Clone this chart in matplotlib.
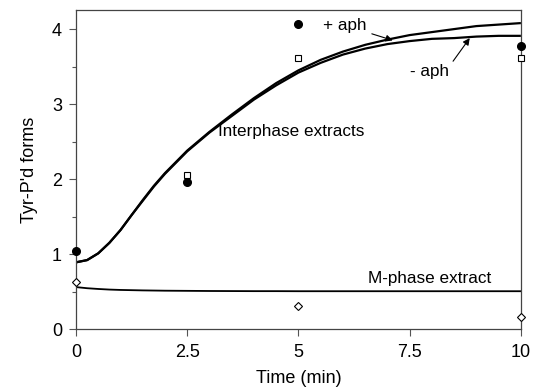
import matplotlib
matplotlib.use("Agg")
import matplotlib.pyplot as plt
from matplotlib.ticker import MultipleLocator

plt.rcParams['font.family'] = ['Liberation Sans', 'DejaVu Sans']

# Model curves
curve_t = [0, 0.25, 0.5, 0.75, 1, 1.25, 1.5, 1.75, 2, 2.5, 3, 3.5, 4, 4.5, 5, 5.5, 6, 6.5, 7, 7.5, 8, 8.5, 9, 9.5, 10]
plus_aph_curve = [0.89, 0.92, 1.01, 1.15, 1.32, 1.52, 1.72, 1.91, 2.08, 2.38, 2.63, 2.86, 3.08, 3.28, 3.45, 3.59,
                  3.70, 3.79, 3.86, 3.92, 3.96, 4.00, 4.04, 4.06, 4.08]
minus_aph_curve = [0.89, 0.92, 1.01, 1.15, 1.32, 1.52, 1.71, 1.90, 2.07, 2.37, 2.62, 2.84, 3.06, 3.25, 3.42, 3.55,
                   3.66, 3.74, 3.80, 3.84, 3.87, 3.88, 3.90, 3.91, 3.91]
mphase_curve = [0.56, 0.545, 0.535, 0.527, 0.522, 0.519, 0.516, 0.514, 0.512, 0.510, 0.508, 0.507, 0.506, 0.506,
                0.505, 0.505, 0.505, 0.505, 0.505, 0.505, 0.505, 0.505, 0.505, 0.505, 0.505]

# Data points
plus_t = [0, 2.5, 5, 10]
plus_y = [1.04, 1.96, 4.07, 3.77]
minus_t = [2.5, 5, 10]
minus_y = [2.05, 3.61, 3.62]
mph_t = [0, 5, 10]
mph_y = [0.63, 0.31, 0.16]

xticks = [0, 2.5, 5, 7.5, 10]
xticklabels = ['0', '2.5', '5', '7.5', '10']
yticks = [0, 1, 2, 3, 4]

fig = plt.figure(figsize=(5.37, 3.89), dpi=100)
ax = fig.add_axes([0.1415, 0.154, 0.8285, 0.820])

ax.plot(curve_t, plus_aph_curve, color='black', lw=1.6, solid_capstyle='butt')
ax.plot(curve_t, minus_aph_curve, color='black', lw=1.6, solid_capstyle='butt')
ax.plot(curve_t, mphase_curve, color='black', lw=1.3)

ax.plot(plus_t, plus_y, 'o', color='black', ms=5.5, clip_on=False, zorder=5)
ax.plot(minus_t, minus_y, 's', mfc='white', mec='black', mew=0.8, ms=5, clip_on=False, zorder=5)
ax.plot(mph_t, mph_y, 'D', mfc='white', mec='black', mew=0.8, ms=4.5, clip_on=False, zorder=5)

ax.set_xlim(0, 10)
ax.set_ylim(0, 4.253)
ax.set_xticks(xticks)
ax.set_xticklabels(xticklabels)
ax.set_yticks(yticks)
ax.yaxis.set_minor_locator(MultipleLocator(0.5))
ax.tick_params(axis='both', which='major', direction='out', length=5, width=0.8, labelsize=13, color='#555555')
ax.tick_params(axis='y', which='minor', direction='out', length=3, width=0.8, color='#555555')
ax.tick_params(axis='x', pad=6)
ax.tick_params(axis='y', pad=5)
for s in ax.spines.values():
    s.set_linewidth(0.9)
    s.set_color('#444444')

ax.set_xlabel('Time (min)', fontsize=13, labelpad=6)
ax.set_ylabel("Tyr-P'd forms", fontsize=13, labelpad=10)

fs = 12.3
ax.text(3.19, 2.63, 'Interphase extracts', fontsize=fs, va='center', ha='left')
ax.text(6.56, 0.67, 'M-phase extract', fontsize=fs, va='center', ha='left')
ax.annotate('+ aph', xy=(7.12, 3.85), xytext=(5.55, 4.05), fontsize=fs, va='center', ha='left',
            arrowprops=dict(arrowstyle='-|>', color='black', lw=0.8, mutation_scale=10, shrinkA=2, shrinkB=0))
ax.annotate('- aph', xy=(8.85, 3.88), xytext=(7.5, 3.43), fontsize=fs, va='center', ha='left',
            arrowprops=dict(arrowstyle='-|>', color='black', lw=0.8, mutation_scale=10, shrinkA=2, shrinkB=0,
                            relpos=(1.0, 0.8)))

fig.savefig('out.png', dpi=100)
